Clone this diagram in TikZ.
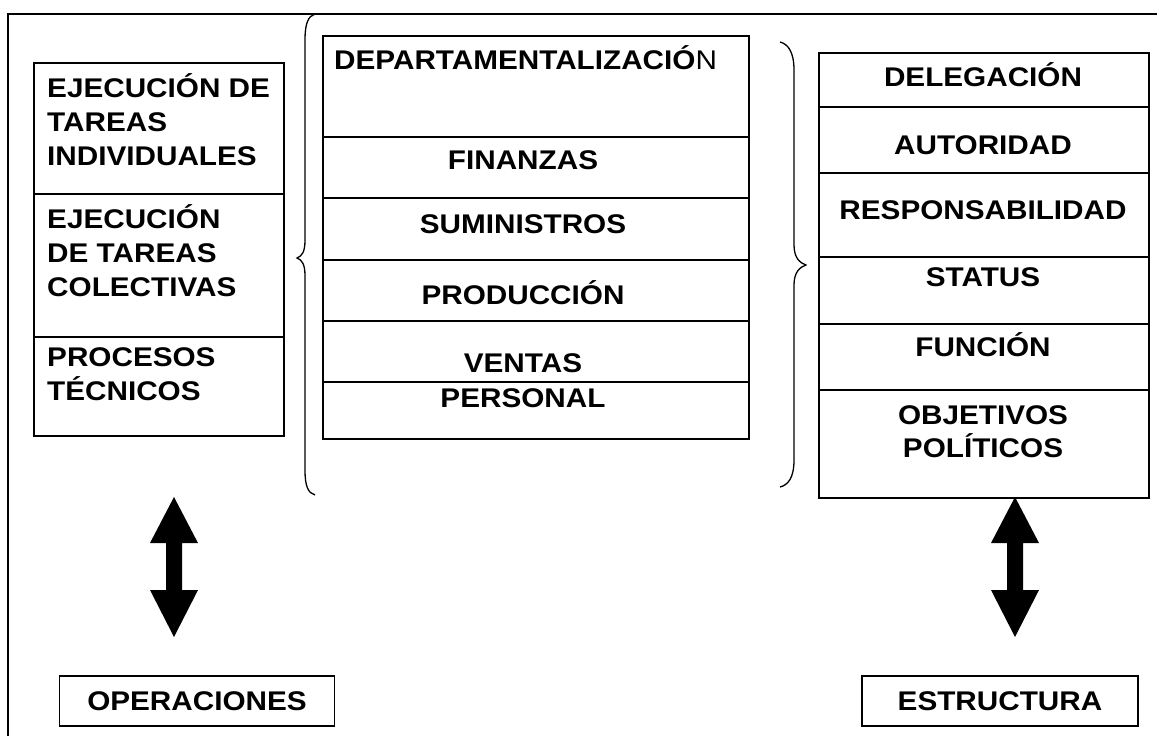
\documentclass[tikz,border=0pt]{standalone}
\usepackage{fontspec}
\setmainfont{Liberation Sans}[FakeStretch=1.1]
\newcommand\mystrut{\rule{0pt}{28pt}}
\tikzset{
  frameline/.style={line width=1.5pt},
  box/.style={draw, line width=1.8pt, inner sep=0pt},
  divline/.style={line width=1.5pt},
  bracepath/.style={line width=1.3pt},
  lbl/.style={inner sep=0pt, font=\bfseries\fontsize{27}{34}\selectfont},
  fatarrow/.pic={\fill (0,0) -- ++(24,46) -- ++(-16,0) -- ++(0,47) -- ++(16,0) -- ++(-24,47) -- ++(-24,-47) -- ++(16,0) -- ++(0,-47) -- ++(-16,0) -- cycle;}
}
\begin{document}
\begin{tikzpicture}[x=1pt,y=-1pt]
\useasboundingbox (0,0) rectangle (1157,736);
% frame
\draw[frameline] (8,736) -- (8,14) -- (1157,14);
% boxes
\node[box, minimum width=250pt, minimum height=373pt, anchor=north west] (opsbox) at (33,62) {};
\node[box, minimum width=426pt, minimum height=403pt, anchor=north west] (depbox) at (322,35) {};
\node[box, minimum width=330pt, minimum height=445pt, anchor=north west] (estbox) at (818,52) {};
% dividers
\foreach \yy in {194,337} \draw[divline] (opsbox.west |- 0,\yy) -- (opsbox.east |- 0,\yy);
\foreach \yy in {137,198,260,321,382} \draw[divline] (depbox.west |- 0,\yy) -- (depbox.east |- 0,\yy);
\foreach \yy in {107,173,257,324,390} \draw[divline] (estbox.west |- 0,\yy) -- (estbox.east |- 0,\yy);
% braces
\draw[bracepath] (315,14) .. controls (308,16) and (305,24) .. (305,40) -- (305,240) .. controls (305,252) and (302,256) .. (297,258) .. controls (302,260) and (305,264) .. (305,276) -- (305,470) .. controls (305,486) and (308,493) .. (315,495);
\draw[bracepath] (780,42) .. controls (788,44) and (794,52) .. (794,70) -- (794,245) .. controls (794,258) and (800,263) .. (806,265) .. controls (800,267) and (794,272) .. (794,285) -- (794,460) .. controls (794,478) and (788,485) .. (780,487);
% left texts
\node[lbl, align=left, anchor=north west] (t1) at (47,69) {\mystrut EJECUCIÓN DE\\TAREAS\\INDIVIDUALES};
\node[lbl, align=left, anchor=north west] (t2) at (47,200) {\mystrut EJECUCIÓN\\DE TAREAS\\COLECTIVAS};
\node[lbl, align=left, anchor=north west] (t3) at (47,338) {\mystrut PROCESOS\\TÉCNICOS};
% middle texts
\node[lbl, anchor=north west] (m0) at (334,41) {\mystrut DEPARTAMENTALIZACIÓ\mdseries N};
\node[lbl, anchor=north] (m1) at (523,141) {\mystrut FINANZAS};
\node[lbl, anchor=north] (m2) at (523,205) {\mystrut SUMINISTROS};
\node[lbl, anchor=north] (m3) at (523,276) {\mystrut PRODUCCIÓN};
\node[lbl, anchor=north] (m4) at (523,344) {\mystrut VENTAS};
\node[lbl, anchor=north] (m5) at (523,379) {\mystrut PERSONAL};
% right texts
\node[lbl, anchor=north] (r1) at (983,58) {\mystrut DELEGACIÓN};
\node[lbl, anchor=north] (r2) at (983,126) {\mystrut AUTORIDAD};
\node[lbl, anchor=north] (r3) at (983,191) {\mystrut RESPONSABILIDAD};
\node[lbl, anchor=north] (r4) at (983,258) {\mystrut STATUS};
\node[lbl, anchor=north] (r5) at (983,328) {\mystrut FUNCIÓN};
\node[lbl, align=center, anchor=north, font=\bfseries\fontsize{27}{33}\selectfont] (r6) at (983,396) {\mystrut OBJETIVOS\\POLÍTICOS};
% bottom boxes
\node[box, lbl, minimum width=275pt, minimum height=50pt] (ops) at (197,701) {OPERACIONES};
\node[box, lbl, minimum width=276pt, minimum height=50pt] (est) at (1000,701) {ESTRUCTURA};
% fat double arrows
\coordinate (la) at (174,497);
\coordinate (ra) at (1015,497);
\pic at (la) {fatarrow};
\pic at (ra) {fatarrow};
\end{tikzpicture}
\end{document}
